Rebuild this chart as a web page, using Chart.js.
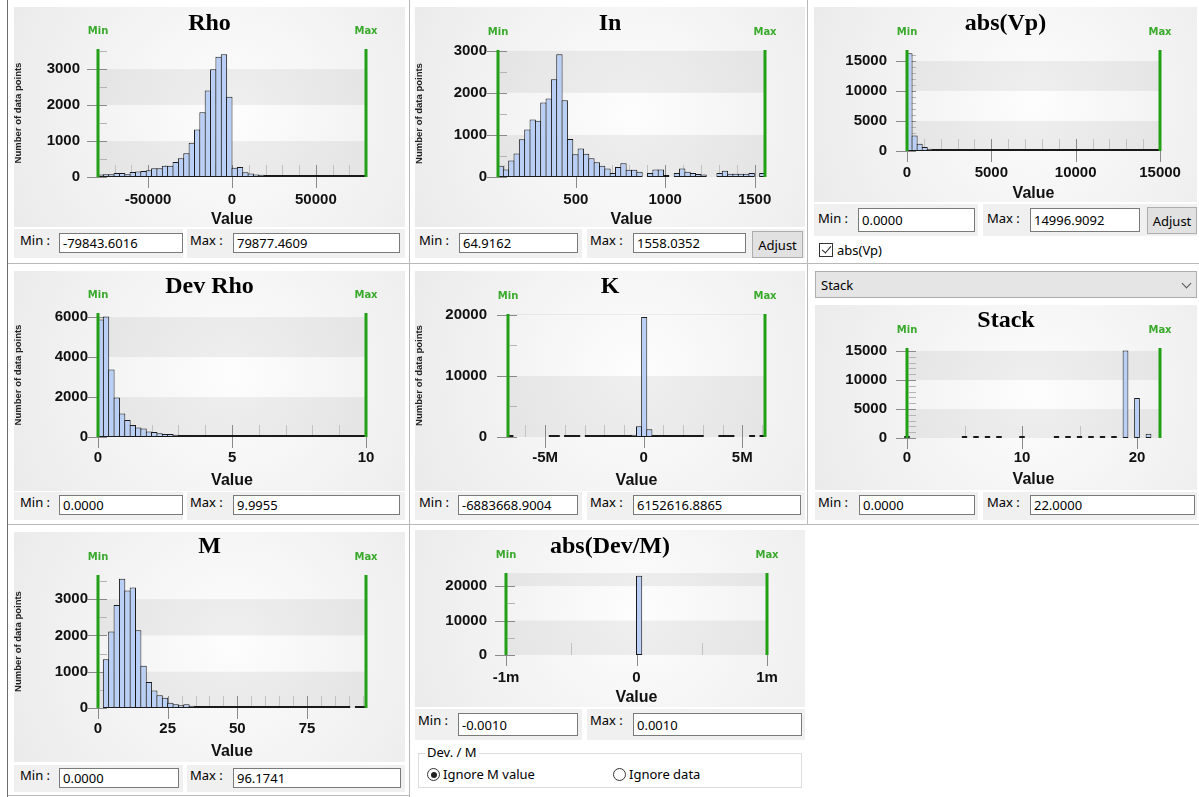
<!DOCTYPE html>
<html>
<head>
<meta charset="utf-8">
<script src="https://cdn.jsdelivr.net/npm/chart.js@4.4.1/dist/chart.umd.min.js"></script>
<style>
  html, body { margin: 0; padding: 0; background: #fff; }
  body { position: relative; width: 1199px; height: 797px; overflow: hidden; font-family: "Noto Sans", "Open Sans", sans-serif; color: #000; }
  .chart { position: absolute; }
  .chart canvas { display: block; }
  .cell { position: absolute; background: #f0f0f0; }
  .lbl { position: absolute; font-size: 13px; line-height: 16px; white-space: nowrap; }
  .box { position: absolute; box-sizing: border-box; border: 1px solid #7a7a7a; background: #fff; font-size: 13px;
         padding-left: 3px; white-space: nowrap; overflow: hidden; display: flex; align-items: center; }
  .btn { position: absolute; box-sizing: border-box; border: 1px solid #adadad; background: #e1e1e1; font-size: 13px;
         display: flex; align-items: center; justify-content: center; }
  .hl { position: absolute; height: 1px; background: #b9b9b9; }
  .vl { position: absolute; width: 1px; background: #b9b9b9; }
  .check { position: absolute; box-sizing: border-box; width: 14px; height: 14px; border: 1px solid #333; background: #fff; }
  .check::after { content: ""; position: absolute; left: 4px; top: 0px; width: 4px; height: 8px;
                  border-right: 1.5px solid #222; border-bottom: 1.5px solid #222; transform: rotate(40deg); }
  .radio { position: absolute; box-sizing: border-box; width: 13px; height: 13px; border: 1px solid #333; border-radius: 50%; background: #fff; }
  .radio.on::after { content: ""; position: absolute; left: 2.5px; top: 2.5px; width: 6px; height: 6px; border-radius: 50%; background: #222; }
  .group { position: absolute; box-sizing: border-box; border: 1px solid #dcdcdc; }
  .legend { position: absolute; font-size: 13px; line-height: 14px; background: #fff; padding: 0 2px; }
  .combo { position: absolute; box-sizing: border-box; border: 1px solid #adadad; background: #e5e5e5; font-size: 13px;
           display: flex; align-items: center; padding-left: 5px; }
  .chev { position: absolute; width: 6px; height: 6px; border-right: 1px solid #555; border-bottom: 1px solid #555; transform: rotate(45deg); }
</style>
</head>
<body>

<!-- frame lines -->
<div class="vl" style="left:7px;top:0;height:797px;background:#6b6b6b"></div>
<div class="vl" style="left:409px;top:0;height:797px"></div>
<div class="vl" style="left:807px;top:0;height:525px"></div>
<div class="hl" style="left:8px;top:263px;width:1191px"></div>
<div class="hl" style="left:8px;top:524px;width:1191px"></div>
<div class="hl" style="left:8px;top:795px;width:401px"></div>

<!-- chart canvases -->
<div class="chart" id="pRho"><canvas></canvas></div>
<div class="chart" id="pIn"><canvas></canvas></div>
<div class="chart" id="pVp"><canvas></canvas></div>
<div class="chart" id="pDevRho"><canvas></canvas></div>
<div class="chart" id="pK"><canvas></canvas></div>
<div class="chart" id="pStack"><canvas></canvas></div>
<div class="chart" id="pM"><canvas></canvas></div>
<div class="chart" id="pDevM"><canvas></canvas></div>

<!-- Rho limits -->
<div class="cell" style="left:14px;top:229px;width:169px;height:29px"></div>
<div class="cell" style="left:187px;top:229px;width:218px;height:29px"></div>
<div class="lbl" style="left:20px;top:232px">Min :</div>
<div class="box" style="left:59px;top:233px;width:124px;height:20px">-79843.6016</div>
<div class="lbl" style="left:190px;top:232px">Max :</div>
<div class="box" style="left:233px;top:233px;width:167px;height:20px">79877.4609</div>

<!-- In limits -->
<div class="cell" style="left:415px;top:229px;width:167px;height:29px"></div>
<div class="cell" style="left:587px;top:229px;width:218px;height:29px"></div>
<div class="lbl" style="left:419px;top:232px">Min :</div>
<div class="box" style="left:459px;top:233px;width:119px;height:20px">64.9162</div>
<div class="lbl" style="left:590px;top:232px">Max :</div>
<div class="box" style="left:633px;top:233px;width:113px;height:20px">1558.0352</div>
<div class="btn" style="left:752px;top:231px;width:51px;height:27px">Adjust</div>

<!-- abs(Vp) limits -->
<div class="cell" style="left:814px;top:204px;width:164px;height:32px"></div>
<div class="cell" style="left:983px;top:204px;width:214px;height:32px"></div>
<div class="lbl" style="left:818px;top:210px">Min :</div>
<div class="box" style="left:858px;top:208px;width:117px;height:24px">0.0000</div>
<div class="lbl" style="left:987px;top:210px">Max :</div>
<div class="box" style="left:1030px;top:208px;width:110px;height:24px">14996.9092</div>
<div class="btn" style="left:1147px;top:207px;width:50px;height:27px">Adjust</div>
<div class="check" style="left:819px;top:243px"></div>
<div class="lbl" style="left:837px;top:242px">abs(Vp)</div>

<!-- Dev Rho limits -->
<div class="cell" style="left:14px;top:492px;width:169px;height:28px"></div>
<div class="cell" style="left:187px;top:492px;width:218px;height:28px"></div>
<div class="lbl" style="left:20px;top:494px">Min :</div>
<div class="box" style="left:59px;top:495px;width:124px;height:20px">0.0000</div>
<div class="lbl" style="left:190px;top:494px">Max :</div>
<div class="box" style="left:233px;top:495px;width:167px;height:20px">9.9955</div>

<!-- K limits -->
<div class="cell" style="left:415px;top:492px;width:167px;height:28px"></div>
<div class="cell" style="left:587px;top:492px;width:218px;height:28px"></div>
<div class="lbl" style="left:419px;top:494px">Min :</div>
<div class="box" style="left:458px;top:495px;width:120px;height:20px">-6883668.9004</div>
<div class="lbl" style="left:590px;top:494px">Max :</div>
<div class="box" style="left:633px;top:495px;width:168px;height:20px">6152616.8865</div>

<!-- Stack selector and limits -->
<div class="combo" style="left:815px;top:271px;width:382px;height:27px">Stack</div>
<div class="chev" style="left:1183px;top:280px"></div>
<div class="cell" style="left:815px;top:492px;width:163px;height:28px"></div>
<div class="cell" style="left:983px;top:492px;width:214px;height:28px"></div>
<div class="lbl" style="left:818px;top:494px">Min :</div>
<div class="box" style="left:859px;top:495px;width:116px;height:20px">0.0000</div>
<div class="lbl" style="left:987px;top:494px">Max :</div>
<div class="box" style="left:1030px;top:495px;width:165px;height:20px">22.0000</div>

<!-- M limits -->
<div class="cell" style="left:14px;top:765px;width:169px;height:27px"></div>
<div class="cell" style="left:187px;top:765px;width:218px;height:27px"></div>
<div class="lbl" style="left:20px;top:767px">Min :</div>
<div class="box" style="left:59px;top:768px;width:120px;height:20px">0.0000</div>
<div class="lbl" style="left:190px;top:767px">Max :</div>
<div class="box" style="left:233px;top:768px;width:168px;height:20px">96.1741</div>

<!-- abs(Dev/M) limits and options -->
<div class="cell" style="left:415px;top:709px;width:167px;height:31px"></div>
<div class="cell" style="left:587px;top:709px;width:218px;height:31px"></div>
<div class="lbl" style="left:418px;top:712px">Min :</div>
<div class="box" style="left:458px;top:713px;width:120px;height:23px">-0.0010</div>
<div class="lbl" style="left:590px;top:712px">Max :</div>
<div class="box" style="left:633px;top:713px;width:169px;height:23px">0.0010</div>
<div class="group" style="left:418px;top:753px;width:384px;height:35px"></div>
<div class="legend" style="left:425px;top:745px">Dev. / M</div>
<div class="radio on" style="left:427px;top:768px"></div>
<div class="lbl" style="left:443px;top:766px">Ignore M value</div>
<div class="radio" style="left:613px;top:768px"></div>
<div class="lbl" style="left:629px;top:766px">Ignore data</div>

<script>
// ---- Histogram data: counts per bin (null = empty bin) ----
const rhoRange = [-79843.6016, 79877.4609];
const rhoCounts = [70, 75, 75, 110, 110, 75, 140, 150, 170, 185,
                   240, 240, 310, 310, 420, 520, 660, 950, 1320, 1800,
                   2400, 2990, 3340, 3410, 2230, 260, 280, 130, 95, 70,
                   60, 50, 35, 30, 28, 25, 22, 20, 20, 18,
                   16, 15, 14, 12, 12, 10, 10, 9, 8, 8];
const rhoXTicks = [-50000, 0, 50000];
const rhoXLabels = ['-50000', '0', '50000'];
const rhoYTicks = [0, 1000, 2000, 3000];

const inRange = [64.9162, 1558.0352];
const inCounts = [270, 180, 390, 560, 900, 1130, 1370, 1340, 1770, 1865,
                  2325, 2920, 1825, 905, 540, 675, 555, 445, 350, 270,
                  205, 95, 240, 325, 175, 175, 125, null, 95, 180,
                  180, 15, null, 95, 205, 125, 95, 70, 60, null,
                  null, 95, 150, 80, 80, 80, 80, 95, null, 95];
const inXTicks = [500, 1000, 1500];
const inXLabels = ['500', '1000', '1500'];
const inYTicks = [0, 1000, 2000, 3000];

const vpRange = [0, 14996.9092];
const vpCounts = [16300, 2600, 1220, 670, 390, 350, 160, 130, 110, 95,
                  80, 70, 60, 55, 50, 45, 40, 36, 32, 30,
                  28, 26, 24, 22, 20, 18, 17, 16, 15, 14,
                  13, 12, 11, 10, 10, 9, 9, 8, 8, 7,
                  7, 6, 6, 6, 5, 5, 5, 4, 4, 4];
const vpXTicks = [0, 5000, 10000, 15000];
const vpXLabels = ['0', '5000', '10000', '15000'];
const vpYTicks = [0, 5000, 10000, 15000];

const devRhoRange = [0, 9.9955];
const devRhoCounts = [5880, 6020, 3380, 1980, 1180, 850, 600, 480, 420, 270,
                      250, 185, 150, 150, 115, 100, 100, 100, 100, 85,
                      85, 85, 60, 45, 40, 36, 33, 30, 28, 26,
                      24, 22, 20, 19, 18, 17, 16, 15, 14, 13,
                      12, 11, 10, 10, 9, 9, 8, 8, 7, 7];
const devRhoXTicks = [0, 5, 10];
const devRhoXLabels = ['0', '5', '10'];
const devRhoYTicks = [0, 2000, 4000, 6000];

const kRange = [-6883668.9004, 6152616.8865];
const kCounts = [20, null, null, null, null, null, null, null, 15, 18,
                 null, 20, 22, 25, null, 25, 30, 30, 35, 40,
                 45, 60, 80, 120, 380, 1750, 19670, 1250, 110, 70,
                 50, 40, 35, 30, 25, 22, 20, 18, null, null,
                 null, 15, 15, 12, null, null, null, 10, null, 12];
const kXTicks = [-5000000, 0, 5000000];
const kXLabels = ['-5M', '0', '5M'];
const kYTicks = [0, 10000, 20000];

const stackRange = [0, 22];
const stackValues = [0, 1, 2, 3, 4, 5, 6, 7, 8, 9, 10, 11, 12, 13, 14, 15, 16, 17, 18, 19, 20, 21, 22];
const stackCounts = [40, null, null, null, null, 40, 40, 40, 40, null, 40, null,
                     null, 40, 40, 40, 40, 40, 40, 15100, 6900, 750, null];
const stackXTicks = [0, 10, 20];
const stackXLabels = ['0', '10', '20'];
const stackYTicks = [0, 5000, 10000, 15000];

const mRange = [0, 96.1741];
const mCounts = [null, 1340, 2110, 2840, 3560, 3240, 3320, 2140, 1165, 715,
                 485, 350, 285, 145, 100, 75, 100, 65, 45, 30,
                 28, 25, 22, 20, 18, 17, 16, 15, 14, 13,
                 12, 11, 10, 10, 9, 9, 8, 8, 7, 7,
                 6, 6, 5, 5, 5, 4, 4, null, 3, 3];
const mXTicks = [0, 25, 50, 75];
const mXLabels = ['0', '25', '50', '75'];
const mYTicks = [0, 1000, 2000, 3000];

const devMRange = [-0.001, 0.001];
const devMCounts = [null, null, null, null, null, null, null, null, null, null,
                    null, null, null, null, null, null, null, null, null, null,
                    null, null, null, null, null, 23000, null, null, null, null,
                    null, null, null, null, null, null, null, null, null, null,
                    null, null, null, null, null, null, null, null, null, null];
const devMXTicks = [-0.001, 0, 0.001];
const devMXLabels = ['-1m', '0', '1m'];
const devMYTicks = [0, 10000, 20000];

// ---- drawing ----
const GREEN_LINE = '#22a014';
const GREEN_TEXT = '#3aaa2c';
const BAR_FILL = '#b9cff6';
const BAR_EDGE = '#1a1a1a';
const SANS = '"Liberation Sans", Arial, sans-serif';

Chart.defaults.font.family = SANS;

function binCenters(range, n) {
  const w = (range[1] - range[0]) / n;
  return Array.from({ length: n }, (_, i) => range[0] + (i + 0.5) * w);
}

// background, bands, tick marks, min/max markers and panel title
const panelPlugin = {
  id: 'panel',
  beforeDraw(chart, args, o) {
    const { ctx, width, height, chartArea: a } = chart;
    const ys = chart.scales.y;
    ctx.save();
    const cx = (a.left + a.right) / 2, cy = (a.top + a.bottom) / 2;
    const g = ctx.createRadialGradient(cx, cy, 0, cx, cy, Math.max(width, height) * 0.62);
    g.addColorStop(0, '#fdfdfd');
    g.addColorStop(1, '#ebebeb');
    ctx.fillStyle = g;
    ctx.fillRect(0, 0, width, height);
    ctx.fillStyle = 'rgba(0,0,0,0.055)';
    for (let k = 0; k * o.yStep < o.yMax; k += 2) {
      const y0 = ys.getPixelForValue(k * o.yStep);
      const y1 = ys.getPixelForValue(Math.min((k + 1) * o.yStep, o.yMax));
      ctx.fillRect(a.left, y1, a.right - a.left, y0 - y1);
    }
    ctx.restore();
  },
  beforeDatasetsDraw(chart, args, o) {
    const { ctx, chartArea: a } = chart;
    const xs = chart.scales.x, ys = chart.scales.y;
    ctx.save();
    ctx.lineWidth = 1;
    const line = (x0, y0, x1, y1, c) => {
      ctx.strokeStyle = c; ctx.beginPath(); ctx.moveTo(x0, y0); ctx.lineTo(x1, y1); ctx.stroke();
    };
    // y tick marks
    for (let k = 1; k * o.yMinor < o.yMax; k++) {
      const v = k * o.yMinor;
      if (o.yTicks.some(t => Math.abs(t - v) < 1e-9)) continue;
      const y = Math.round(ys.getPixelForValue(v)) + 0.5;
      line(a.left + 2, y, a.left + 9, y, '#b4b4b4');
    }
    o.yTicks.forEach(v => {
      const y = Math.round(ys.getPixelForValue(v)) + 0.5;
      line(a.left - 11, y, a.left + 9, y, '#8a8a8a');
    });
    // x tick marks
    const k0 = Math.ceil(o.range[0] / o.xMinor - 1e-9), k1 = Math.floor(o.range[1] / o.xMinor + 1e-9);
    for (let k = k0; k <= k1; k++) {
      const v = k * o.xMinor;
      if (o.xTicks.some(t => Math.abs(t - v) < o.xMinor * 1e-6)) continue;
      const x = Math.round(xs.getPixelForValue(v)) + 0.5;
      line(x, a.bottom - 12, x, a.bottom, '#c2c2c2');
    }
    o.xTicks.forEach(v => {
      const x = Math.round(xs.getPixelForValue(v)) + 0.5;
      line(x, a.bottom - 12, x, a.bottom + 11, '#8a8a8a');
    });
    ctx.restore();
  },
  afterDatasetsDraw(chart, args, o) {
    const { ctx, width, chartArea: a } = chart;
    const xs = chart.scales.x;
    ctx.save();
    // min / max markers
    ctx.fillStyle = GREEN_LINE;
    const xMin = xs.getPixelForValue(o.range[0]);
    const xMax = xs.getPixelForValue(o.range[1]);
    ctx.fillRect(xMin - 1.5, a.top, 3, a.bottom - a.top);
    ctx.fillRect(xMax - 1.5, a.top, 3, a.bottom - a.top);
    ctx.fillStyle = GREEN_TEXT;
    ctx.font = 'bold 10px "DejaVu Sans", Verdana, sans-serif';
    ctx.textAlign = 'center';
    ctx.textBaseline = 'middle';
    ctx.fillText('Min', xMin, a.top - 18);
    ctx.fillText('Max', xMax, a.top - 18);
    // panel title
    ctx.fillStyle = '#000';
    ctx.font = 'bold 24px "Liberation Serif", "Times New Roman", serif';
    ctx.fillText(o.title, width / 2, o.titleY);
    ctx.restore();
  }
};

function drawHistogram(id, s) {
  const host = document.getElementById(id);
  const [bx, by, bw, bh] = s.box;
  Object.assign(host.style, { left: bx + 'px', top: by + 'px', width: bw + 'px', height: bh + 'px' });
  const canvas = host.querySelector('canvas');
  canvas.width = bw; canvas.height = bh;
  canvas.style.width = bw + 'px'; canvas.style.height = bh + 'px';

  const pl = s.plot[0] - bx, pt = s.plot[1] - by, pr = s.plot[2] - bx, pb = s.plot[3] - by;
  const centers = s.centers || binCenters(s.range, s.counts.length);
  const spacingPx = (pr - pl) * (centers[1] - centers[0]) / (s.range[1] - s.range[0]);
  const barPct = s.barPct || (1 + 1 / spacingPx);
  const data = centers.map((x, i) => ({ x, y: s.counts[i] }));
  const tickFont = { family: SANS, size: 15, weight: 'bold' };

  new Chart(canvas, {
    type: 'bar',
    data: {
      datasets: [{
        data,
        backgroundColor: BAR_FILL,
        borderColor: BAR_EDGE,
        borderWidth: 1,
        borderSkipped: false,
        barPercentage: barPct,
        categoryPercentage: 1,
        minBarLength: 2,
        clip: s.clip === undefined ? 0 : s.clip
      }]
    },
    options: {
      responsive: false,
      animation: false,
      events: [],
      layout: { padding: { left: 0, top: pt, right: bw - pr, bottom: 0 } },
      plugins: {
        legend: { display: false },
        tooltip: { enabled: false },
        panel: {
          title: s.title, titleY: s.titleY - by, range: s.range,
          yMax: s.yMax, yStep: s.yTicks[1], yTicks: s.yTicks, yMinor: s.yMinor,
          xTicks: s.xTicks, xMinor: s.xMinor
        }
      },
      scales: {
        x: {
          type: 'linear',
          min: s.range[0], max: s.range[1],
          offset: false,
          grid: { display: false, drawTicks: false, offset: false },
          border: { display: false },
          afterBuildTicks: sc => { sc.ticks = s.xTicks.map(v => ({ value: v })); },
          afterFit: sc => { sc.height = bh - pb; },
          ticks: {
            autoSkip: false, maxRotation: 0, minRotation: 0,
            padding: s.xLabelY - s.plot[3] - 9,
            color: '#111', font: tickFont,
            callback: (v, i) => s.xLabels[i]
          },
          title: {
            display: true, text: 'Value', color: '#111',
            font: { family: SANS, size: 16, weight: 'bold', lineHeight: 0.875 },
            padding: { top: 0, bottom: (by + bh) - s.valueY - 7 }
          }
        },
        y: {
          type: 'linear',
          min: 0, max: s.yMax,
          grid: { display: false, drawTicks: false },
          border: { display: false },
          afterBuildTicks: sc => { sc.ticks = s.yTicks.map(v => ({ value: v })); },
          afterFit: sc => { sc.width = pl; },
          ticks: {
            padding: s.yPad, color: '#111', font: tickFont,
            callback: v => String(v)
          },
          title: {
            display: !!s.yTitle, text: 'Number of data points', color: '#222',
            font: { family: SANS, size: 9.5, weight: 'bold', lineHeight: 1 },
            padding: { top: 0, bottom: 0 }
          }
        }
      }
    },
    plugins: [panelPlugin]
  });
}

drawHistogram('pRho', {
  title: 'Rho', box: [14, 7, 391, 220], plot: [98, 49, 366, 177], titleY: 24,
  range: rhoRange, counts: rhoCounts, yMax: 3555, yTicks: rhoYTicks, yMinor: 500,
  xTicks: rhoXTicks, xLabels: rhoXLabels, xMinor: 10000,
  yPad: 18, xLabelY: 200, valueY: 220, yTitle: true
});
drawHistogram('pIn', {
  title: 'In', box: [415, 7, 390, 220], plot: [498, 50, 765, 177], titleY: 24,
  range: inRange, counts: inCounts, yMax: 3020, yTicks: inYTicks, yMinor: 500,
  xTicks: inXTicks, xLabels: inXLabels, xMinor: 100,
  yPad: 11, xLabelY: 200, valueY: 220, yTitle: true
});
drawHistogram('pVp', {
  title: 'abs(Vp)', box: [814, 7, 383, 195], plot: [907, 50, 1160, 151], titleY: 24,
  range: vpRange, counts: vpCounts, yMax: 16833, yTicks: vpYTicks, yMinor: 1000,
  xTicks: vpXTicks, xLabels: vpXLabels, xMinor: 1000,
  yPad: 20, xLabelY: 173, valueY: 194, yTitle: false
});
drawHistogram('pDevRho', {
  title: 'Dev Rho', box: [14, 271, 391, 220], plot: [98, 313, 366, 437], titleY: 287,
  range: devRhoRange, counts: devRhoCounts, yMax: 6200, yTicks: devRhoYTicks, yMinor: 1000,
  xTicks: devRhoXTicks, xLabels: devRhoXLabels, xMinor: 1,
  yPad: 10, xLabelY: 458, valueY: 481, yTitle: true
});
drawHistogram('pK', {
  title: 'K', box: [415, 271, 390, 220], plot: [508, 314, 765, 437], titleY: 287,
  range: kRange, counts: kCounts, yMax: 20160, yTicks: kYTicks, yMinor: 5000,
  xTicks: kXTicks, xLabels: kXLabels, xMinor: 1000000,
  yPad: 21, xLabelY: 458, valueY: 481, yTitle: true
});
drawHistogram('pStack', {
  title: 'Stack', box: [815, 305, 382, 185], plot: [907, 348, 1160, 438], titleY: 321,
  range: stackRange, counts: stackCounts, centers: stackValues, barPct: 0.5, clip: false,
  yMax: 15517, yTicks: stackYTicks, yMinor: 1000,
  xTicks: stackXTicks, xLabels: stackXLabels, xMinor: 5,
  yPad: 20, xLabelY: 458, valueY: 480, yTitle: false
});
drawHistogram('pM', {
  title: 'M', box: [14, 532, 391, 230], plot: [98, 575, 366, 708], titleY: 547,
  range: mRange, counts: mCounts, yMax: 3664, yTicks: mYTicks, yMinor: 500,
  xTicks: mXTicks, xLabels: mXLabels, xMinor: 5,
  yPad: 10, xLabelY: 729, valueY: 752, yTitle: true
});
drawHistogram('pDevM', {
  title: 'abs(Dev/M)', box: [415, 530, 390, 177], plot: [506, 573, 767, 655], titleY: 547,
  range: devMRange, counts: devMCounts, yMax: 23800, yTicks: devMYTicks, yMinor: 5000,
  xTicks: devMXTicks, xLabels: devMXLabels, xMinor: 0.0005,
  yPad: 19, xLabelY: 678, valueY: 698, yTitle: false
});
</script>
</body>
</html>
